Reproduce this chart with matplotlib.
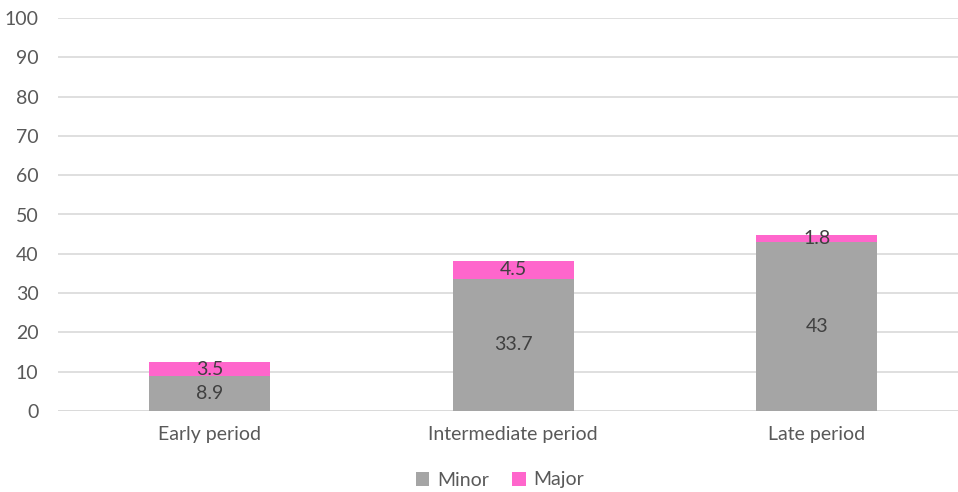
import matplotlib.pyplot as plt

categories = ["Early period", "Intermediate period", "Late period"]
minor = [8.9, 33.7, 43]
major = [3.5, 4.5, 1.8]

plt.rcParams["font.family"] = ["Lato", "DejaVu Sans"]

fig = plt.figure(figsize=(9.58, 4.92), dpi=100)
ax = fig.add_axes([58 / 958, 81 / 492, 900 / 958, 393 / 492])

x = range(len(categories))
b1 = ax.bar(x, minor, width=0.4, color="#A5A5A5", label="Minor", zorder=2)
b2 = ax.bar(x, major, width=0.4, bottom=minor, color="#FF66CC", label="Major", zorder=2)

for bars, vals in ((b1, minor), (b2, major)):
    for rect, v in zip(bars, vals):
        ax.text(rect.get_x() + rect.get_width() / 2, rect.get_y() + rect.get_height() / 2,
                f"{v:g}", ha="center", va="center", fontsize=14, color="#404040", zorder=3)

ax.set_xlim(-0.5, -0.5 + 900 / 303.5)
ax.set_ylim(0, 100)
ax.set_yticks(range(0, 101, 10))
ax.set_xticks(list(x))
ax.set_xticklabels(categories)
ax.grid(axis="y", color="#D9D9D9", linewidth=1.2, zorder=0)
ax.tick_params(length=0, labelsize=14, colors="#595959")
ax.tick_params(axis="x", pad=11)
ax.tick_params(axis="y", pad=14)
for s in ax.spines.values():
    s.set_visible(False)
ax.axhline(0, color="#D9D9D9", linewidth=1.2, zorder=1)

fig.legend(loc="center", bbox_to_anchor=(500 / 958, 1 - 480 / 492), ncol=2, frameon=False,
           fontsize=14, labelcolor="#595959", handlelength=0.7, handleheight=0.7,
           handletextpad=0.4, columnspacing=1.2)

fig.savefig("out.png", dpi=100)
